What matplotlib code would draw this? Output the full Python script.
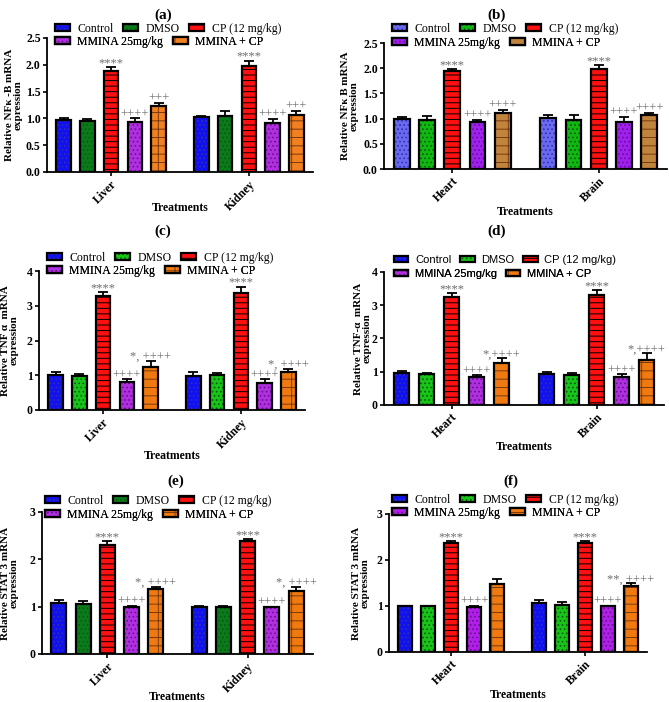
import numpy as np
import matplotlib
matplotlib.use('Agg')
import matplotlib.pyplot as plt

plt.rcParams['font.family'] = ['Liberation Serif', 'DejaVu Serif']
plt.rcParams['hatch.linewidth'] = 0.7

W, H = 669, 702

series = ['Control', 'DMSO', 'CP (12 mg/kg)', 'MMINA 25mg/kg', 'MMINA + CP']

groups_ab = [['Liver', 'Kidney'], ['Heart', 'Brain']]

nfkb_liver_kidney = [[0.97, 0.95, 1.88, 0.94, 1.24], [1.02, 1.04, 1.97, 0.91, 1.07]]
nfkb_liver_kidney_err = [[0.03, 0.03, 0.08, 0.06, 0.05], [0.03, 0.09, 0.11, 0.08, 0.07]]
nfkb_heart_brain = [[1.0, 0.98, 1.94, 0.94, 1.11], [1.02, 0.98, 1.99, 0.94, 1.07]]
nfkb_heart_brain_err = [[0.04, 0.07, 0.05, 0.04, 0.07], [0.05, 0.10, 0.08, 0.10, 0.05]]

tnf_liver_kidney = [[1.02, 0.99, 3.27, 0.82, 1.23], [0.98, 1.0, 3.38, 0.77, 1.1]]
tnf_liver_kidney_err = [[0.06, 0.05, 0.12, 0.06, 0.19], [0.11, 0.06, 0.17, 0.12, 0.09]]
tnf_heart_brain = [[0.96, 0.92, 3.26, 0.83, 1.26], [0.93, 0.9, 3.3, 0.85, 1.34]]
tnf_heart_brain_err = [[0.06, 0.05, 0.11, 0.06, 0.15], [0.07, 0.06, 0.15, 0.08, 0.22]]

stat_liver_kidney = [[1.07, 1.06, 2.31, 1.0, 1.38], [1.0, 1.0, 2.39, 0.99, 1.34]]
stat_liver_kidney_err = [[0.07, 0.07, 0.08, 0.02, 0.04], [0.01, 0.01, 0.04, 0.01, 0.08]]
stat_heart_brain = [[1.0, 1.0, 2.36, 0.98, 1.48], [1.06, 1.03, 2.38, 0.99, 1.43]]
stat_heart_brain_err = [[0.01, 0.01, 0.05, 0.02, 0.11], [0.07, 0.05, 0.03, 0.01, 0.06]]

annot_a = [['', '', '****', '++++', '+++'], ['', '', '****', '++++', '+++']]
annot_b = [['', '', '****', '++++', '++++'], ['', '', '****', '++++', '++++']]
annot_c = [['', '', '****', '++++', '*, ++++'], ['', '', '****', '++++', '*, ++++']]
annot_d = [['', '', '****', '++++', '*,++++'], ['', '', '****', '++++', '*,++++']]
annot_e = [['', '', '****', '++++', '*, ++++'], ['', '', '****', '++++', '*, ++++']]
annot_f = [['', '', '****', '++++', ''], ['', '', '****', '++++', '**, ++++']]

ylabels = ['Relative NFκ -B mRNA\nexpression', 'Relative NFκ B mRNA\nexpression',
           'Relative TNF α  mRNA\nexpression', 'Relative TNF-α  mRNA\nexpression',
           'Relative STAT 3 mRNA\nexpression', 'Relative STAT 3 mRNA\nexpression']

dark_green = '#0b7a1a'
bright_green = '#18c418'
colors_a = ['#1010f0', dark_green, '#ff1010', '#b030e0', '#f08020']
colors_b = ['#6a6af0', '#10b810', '#ff1010', '#a020f0', '#c0843c']
colors_c = ['#1010f0', bright_green, '#ff1010', '#b030e0', '#f07a10']
colors_d = ['#1010f0', bright_green, '#ff1010', '#b030e0', '#f07a10']
colors_e = ['#1010f0', dark_green, '#ff1010', '#b030e0', '#f07a10']
colors_f = ['#1010f0', bright_green, '#ff1010', '#b020e8', '#f07a10']
hatch_colors = ['#3030b0', '#0a5a12', '#000000', '#6a1090', '#7a3a10']
hatches = ['....', '....', '---', '....', '-|-']

# pixel layout: box=(left, top, right, bottom), legend=(x, row1 y, row2 y)
panels = [
    dict(box=(47, 38, 313, 172), data=nfkb_liver_kidney, err=nfkb_liver_kidney_err, ann=annot_a,
         groups=groups_ab[0], colors=colors_a, ymax=2.5, step=0.5, fmt='%.1f', title='(a)',
         title_xy=(163, 15), xl_y=208, yl_x=14, leg=(55, 29, 42), leg_font='serif'),
    dict(box=(384, 43, 667, 169), data=nfkb_heart_brain, err=nfkb_heart_brain_err, ann=annot_b,
         groups=groups_ab[1], colors=colors_b, ymax=2.5, step=0.5, fmt='%.1f', title='(b)',
         title_xy=(497, 15), xl_y=212, yl_x=350, leg=(392, 29, 43), leg_font='serif'),
    dict(box=(39, 271, 305, 410), data=tnf_liver_kidney, err=tnf_liver_kidney_err, ann=annot_c,
         groups=groups_ab[0], colors=colors_c, ymax=4, step=1, fmt='%d', title='(c)',
         title_xy=(163, 231), xl_y=456, yl_x=10, leg=(47, 258, 271), leg_font='serif'),
    dict(box=(384, 272, 664, 405), data=tnf_heart_brain, err=tnf_heart_brain_err, ann=annot_d,
         groups=groups_ab[1], colors=colors_d, ymax=4, step=1, fmt='%d', title='(d)',
         title_xy=(497, 231), xl_y=447, yl_x=363, leg=(394, 260, 274), leg_font='sans'),
    dict(box=(42, 512, 313, 654), data=stat_liver_kidney, err=stat_liver_kidney_err, ann=annot_e,
         groups=groups_ab[0], colors=colors_e, ymax=3, step=1, fmt='%d', title='(e)',
         title_xy=(176, 481), xl_y=697, yl_x=10, leg=(45, 501, 515), leg_font='serif'),
    dict(box=(389, 514, 647, 652), data=stat_heart_brain, err=stat_heart_brain_err, ann=annot_f,
         groups=groups_ab[1], colors=colors_f, ymax=3, step=1, fmt='%d', title='(f)',
         title_xy=(511, 481), xl_y=695, yl_x=361, leg=(392, 500, 513), leg_font='serif'),
]

gap = 5.8
width = 0.62

fig = plt.figure(figsize=(W / 100, H / 100), dpi=100)

for k, p in enumerate(panels):
    l, t, r, b = p['box']
    ax = fig.add_axes([l / W, 1 - b / H, (r - l) / W, (b - t) / H])
    handles = []
    for g in range(2):
        x = np.arange(5) + g * gap
        vals = np.array(p['data'][g])
        errs = np.array(p['err'][g])
        for i in range(5):
            fill = ax.bar(x[i], vals[i], width, color=p['colors'][i], edgecolor=hatch_colors[i],
                          linewidth=0, hatch=hatches[i], zorder=2)
            edge = ax.bar(x[i], vals[i], width, fill=False, edgecolor='black', linewidth=1.6, zorder=3)
            ax.errorbar(x[i], vals[i], yerr=[[0], [errs[i]]], fmt='none', ecolor='black',
                        elinewidth=1.3, capsize=3.5, capthick=1.3, zorder=1)
            if g == 0:
                handles.append((fill, edge))
            txt = p['ann'][g][i]
            if txt:
                ax.text(x[i], vals[i] + errs[i] + p['ymax'] * 0.006, txt, ha='center', va='baseline',
                        color='#6e6e6e', fontsize=9)
    ax.set_xlim(-0.7, 10.5)
    ax.set_ylim(0, p['ymax'])
    yt = np.arange(0, p['ymax'] + 1e-9, p['step'])
    ax.set_yticks(yt)
    ax.set_yticklabels([p['fmt'] % v for v in yt], fontweight='bold', fontsize=8.5)
    ax.set_xticks([2, 2 + gap])
    ax.set_xticklabels(p['groups'], rotation=45, ha='right', rotation_mode='anchor',
                       fontweight='bold', fontsize=8.5)
    ax.spines['top'].set_visible(False)
    ax.spines['right'].set_visible(False)
    ax.spines['left'].set_linewidth(1.3)
    ax.spines['bottom'].set_linewidth(1.3)
    ax.tick_params(axis='both', width=1.2, length=3, pad=1.5)

    if p['leg_font'] == 'sans':
        leg_family = ['Liberation Sans', 'DejaVu Sans']
        leg_size = 8
    else:
        leg_family = ['Liberation Serif', 'DejaVu Serif']
        leg_size = 8.5
    lx, ly1, ly2 = p['leg']
    for rows, ly in (([0, 1, 2], ly1), ([3, 4], ly2)):
        leg = ax.legend([handles[i] for i in rows], [series[i] for i in rows], ncol=len(rows),
                        loc='center left', bbox_to_anchor=(lx / W, 1 - ly / H),
                        bbox_transform=fig.transFigure, frameon=False,
                        prop={'family': leg_family, 'size': leg_size}, handlelength=1.3,
                        handleheight=0.55, handletextpad=0.6, columnspacing=0.8,
                        borderpad=0, borderaxespad=0)
        ax.add_artist(leg)

    fig.text(p['title_xy'][0] / W, 1 - p['title_xy'][1] / H, p['title'], ha='center', va='center',
             fontweight='bold', fontsize=11)
    fig.text((l + r) / 2 / W, 1 - p['xl_y'] / H, 'Treatments', ha='center', va='center',
             fontweight='bold', fontsize=8.5)
    fig.text(p['yl_x'] / W, 1 - (t + b) / 2 / H, ylabels[k], ha='center', va='center',
             rotation=90, fontweight='bold', fontsize=8, linespacing=1.0)

fig.savefig('out.png', dpi=100)
